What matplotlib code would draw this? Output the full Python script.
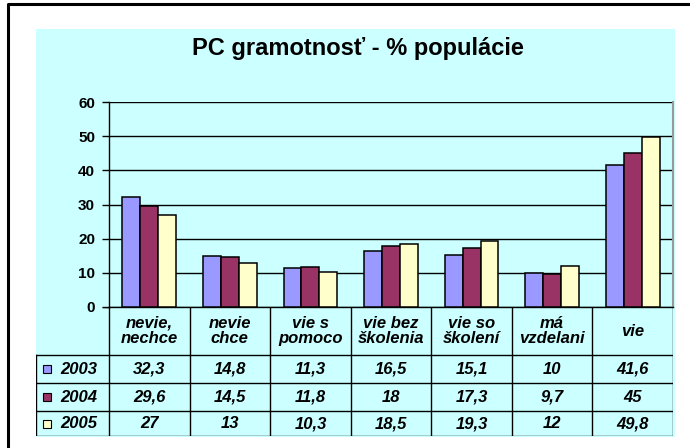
import matplotlib
matplotlib.use("Agg")
import matplotlib.pyplot as plt
from matplotlib.patches import Rectangle
from matplotlib.lines import Line2D
import numpy as np

plt.rcParams['font.family'] = ['Liberation Sans', 'DejaVu Sans']

categories = ["nevie,\nnechce", "nevie\nchce", "vie s\npomoco", "vie bez\nškolenia",
              "vie so\nškolení", "má\nvzdelani", "vie"]
years = ["2003", "2004", "2005"]
v2003 = [32.3, 14.8, 11.3, 16.5, 15.1, 10, 41.6]
v2004 = [29.6, 14.5, 11.8, 18, 17.3, 9.7, 45]
v2005 = [27, 13, 10.3, 18.5, 19.3, 12, 49.8]
labels2003 = ["32,3", "14,8", "11,3", "16,5", "15,1", "10", "41,6"]
labels2004 = ["29,6", "14,5", "11,8", "18", "17,3", "9,7", "45"]
labels2005 = ["27", "13", "10,3", "18,5", "19,3", "12", "49,8"]
yticks = [0, 10, 20, 30, 40, 50, 60]
title = "PC gramotnosť - % populácie"

series = [v2003, v2004, v2005]
series_labels = [labels2003, labels2004, labels2005]
colors = ["#9999FF", "#993366", "#FFFFCC"]
bg = "#CCFFFF"

W, H = 690, 448
fig = plt.figure(figsize=(W / 100, H / 100), dpi=100)
fig.patch.set_facecolor("white")

def fx(px):
    return px / W

def fy(py):
    return 1 - py / H

# cyan chart area
fig.patches.append(Rectangle((fx(36), fy(437)), fx(675) - fx(36), fy(29) - fy(437),
                             transform=fig.transFigure, facecolor=bg, edgecolor="none", zorder=-5))
# outer border (left and top)
fig.lines.append(Line2D([fx(8), fx(8), fx(690)], [fy(448), fy(4), fy(4)],
                        transform=fig.transFigure, color="black", lw=2.2, zorder=-4))

# main axes
L, R, T, B = 109, 673, 102, 307
ax = fig.add_axes([fx(L), fy(B), fx(R) - fx(L), fy(T) - fy(B)])
ax.set_facecolor(bg)
n = len(categories)
x = np.arange(n)
bw = 1 / 4.5
for i, (vals, c) in enumerate(zip(series, colors)):
    ax.bar(x + (i - 1) * bw, vals, width=bw, color=c, edgecolor="black", linewidth=1.1, zorder=3)
ax.set_xlim(-0.5, n - 0.5)
ax.set_ylim(0, 60)
ax.set_yticks(yticks)
ax.set_yticklabels([str(t) for t in yticks], fontsize=11, fontweight="bold")
ax.set_xticks([])
ax.yaxis.grid(True, color="black", lw=1.0, zorder=1)
ax.set_axisbelow(True)
ax.tick_params(axis="y", direction="out", length=5, width=1, pad=5)
ax.spines["top"].set_visible(False)
ax.spines["right"].set_color("#999999")
ax.spines["right"].set_linewidth(1.5)
ax.spines["left"].set_linewidth(1.0)
ax.spines["bottom"].set_linewidth(1.0)

# table axes (same category scale)
lab_w = (L - 36) / ((R - L) / n)
TB = 436
tax = fig.add_axes([fx(36), fy(TB), fx(R) - fx(36), fy(B) - fy(TB)])
tax.set_xlim(-0.5 - lab_w, n - 0.5)
row_edges = [0, 48, 76, 104, TB - B]  # pixel offsets from top of table
tax.set_ylim(TB - B, 0)
tax.axis("off")
tax.patch.set_visible(False)

lc = "black"
lw = 1.0
for ye in row_edges[1:]:
    tax.plot([-0.5 - lab_w, n - 0.5], [ye] * 2, color=lc, lw=lw)
for k in range(n + 1):
    tax.plot([k - 0.5] * 2, [row_edges[0], row_edges[-1]], color=lc, lw=lw)
tax.plot([-0.5 - lab_w] * 2, [row_edges[1], row_edges[-1]], color=lc, lw=lw)
tax.plot([-0.5 - 0.07, -0.5], [0, 0], color=lc, lw=lw)

tfont = dict(fontsize=12, fontweight="bold", fontstyle="italic", ha="center", va="center")
for k, cat in enumerate(categories):
    tax.text(k, (row_edges[0] + row_edges[1]) / 2, cat, linespacing=1.08, **tfont)
px_unit = (R - L) / n
for r in range(3):
    yc = (row_edges[r + 1] + row_edges[r + 2]) / 2
    for k in range(n):
        tax.text(k, yc, series_labels[r][k], **tfont)
    kx = -0.5 - lab_w + 7 / px_unit
    ks = 8 / px_unit
    tax.add_patch(Rectangle((kx, yc - 4), ks, 8, facecolor=colors[r], edgecolor="black", lw=0.8))
    tax.text(kx + ks + 9 / px_unit, yc, years[r], fontsize=12, fontweight="bold", fontstyle="italic",
             ha="left", va="center")

fig.text(fx(358), fy(48), title, fontsize=17, fontweight="bold", ha="center", va="center")

fig.savefig("out.png", dpi=100)
